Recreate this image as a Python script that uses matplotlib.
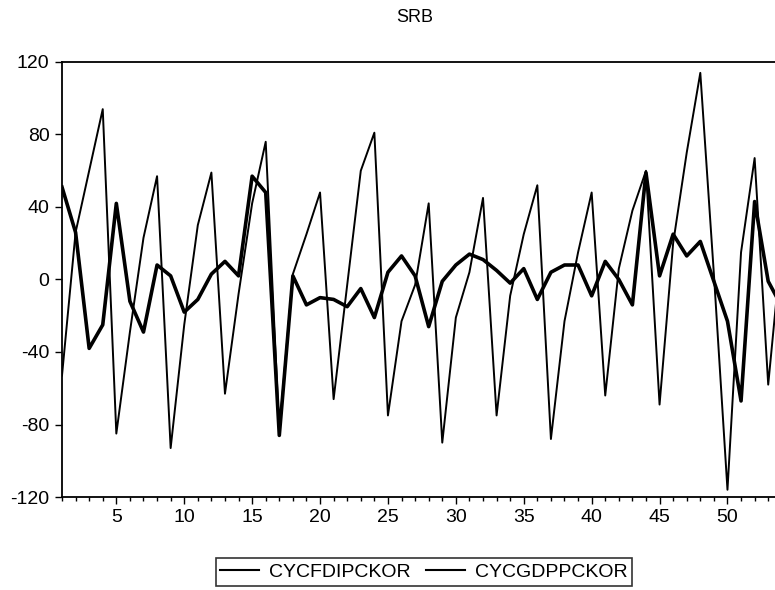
import numpy as np
import matplotlib.pyplot as plt
from matplotlib.ticker import MultipleLocator

plt.rcParams['font.family'] = ['Liberation Sans', 'DejaVu Sans']
plt.rcParams['axes.unicode_minus'] = False

periods = np.arange(1, 55)

cyc_fdi = [-53, 26, 60, 94, -85, -29, 23, 57, -93, -25,
           30, 59, -63, -8, 42, 76, -84, 3, 25, 48,
           -66, -3, 60, 81, -75, -23, -3, 42, -90, -21,
           4, 45, -75, -9, 25, 52, -88, -23, 15, 48,
           -64, 6, 38, 60, -69, 20, 70, 114, 3, -116,
           15, 67, -58, 20]

cyc_gdp = [51, 26, -38, -25, 42, -12, -29, 8, 2, -18,
           -11, 3, 10, 2, 57, 48, -86, 2, -14, -10,
           -11, -15, -5, -21, 4, 13, 2, -26, -1, 8,
           14, 11, 5, -2, 6, -11, 4, 8, 8, -9,
           10, 0, -14, 59, 2, 25, 13, 21, -1, -23,
           -67, 43, -1, -15]

fig = plt.figure(figsize=(7.75, 5.9), dpi=100)
ax = fig.add_axes([62 / 775, 93 / 590, 1 - 62 / 775, 435 / 590])

ax.plot(periods, cyc_fdi, color='black', lw=1.4, label='CYCFDIPCKOR')
ax.plot(periods, cyc_gdp, color='black', lw=2.6, label='CYCGDPPCKOR')

ax.set_xlim(1, 53.5)
ax.set_ylim(-120, 120)
ax.set_yticks(np.arange(-120, 121, 40))
ax.xaxis.set_major_locator(MultipleLocator(5))
ax.xaxis.set_minor_locator(MultipleLocator(1))
ax.tick_params(axis='both', which='major', direction='out', labelsize=14,
               length=5, width=1, pad=4)
ax.tick_params(axis='x', which='minor', direction='out', length=3, width=1)
ax.spines['right'].set_visible(False)
for s in ['left', 'top', 'bottom']:
    ax.spines[s].set_linewidth(1.3)

fig.text(415 / 775, 1 - 18 / 590, 'SRB', ha='center', va='center', fontsize=13)

leg = fig.legend(loc='center', bbox_to_anchor=(424 / 775, 18 / 590), ncol=2,
                 fontsize=14, frameon=True, fancybox=False, handlelength=2.0,
                 columnspacing=0.8, borderpad=0.25, handletextpad=0.5)
leg.get_frame().set_edgecolor('black')
leg.get_frame().set_linewidth(1.2)
for line in leg.get_lines():
    line.set_linewidth(1.5)

fig.savefig('out.png', dpi=100)
